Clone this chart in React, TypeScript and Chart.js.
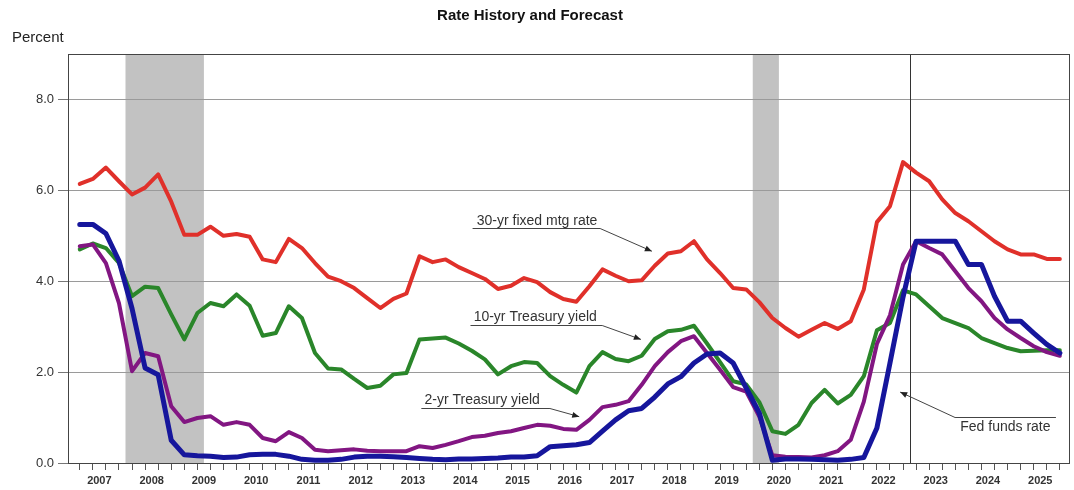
import React, { useEffect, useRef } from 'react';
import { Chart, registerables } from 'chart.js';

Chart.register(...registerables);

// ---------- data (quarterly, 2007 Q1 .. 2025 Q4) ----------
const START_YEAR = 2007;
const years = [2007, 2008, 2009, 2010, 2011, 2012, 2013, 2014, 2015, 2016, 2017, 2018, 2019, 2020, 2021, 2022, 2023, 2024, 2025];
const yTickValues = [0, 2, 4, 6, 8];

const mortgage30 = [
  6.14, 6.25, 6.50, 6.20, 5.91, 6.06, 6.35, 5.75, 5.02, 5.02,
  5.20, 5.00, 5.04, 4.98, 4.48, 4.42, 4.93, 4.73, 4.40, 4.10,
  4.00, 3.85, 3.63, 3.41, 3.61, 3.73, 4.55, 4.42, 4.48, 4.31,
  4.18, 4.05, 3.83, 3.90, 4.07, 3.98, 3.76, 3.61, 3.55, 3.89,
  4.26, 4.12, 4.00, 4.02, 4.34, 4.61, 4.66, 4.88, 4.48, 4.18,
  3.85, 3.82, 3.54, 3.19, 2.97, 2.78, 2.93, 3.08, 2.95, 3.12,
  3.82, 5.30, 5.65, 6.62, 6.39, 6.20, 5.80, 5.50, 5.32, 5.10,
  4.88, 4.70, 4.59, 4.59, 4.49, 4.49,
];

const treasury10 = [
  4.70, 4.83, 4.73, 4.40, 3.67, 3.88, 3.85, 3.27, 2.72, 3.30,
  3.52, 3.45, 3.71, 3.46, 2.80, 2.86, 3.45, 3.19, 2.42, 2.08,
  2.06, 1.85, 1.65, 1.70, 1.95, 1.98, 2.72, 2.74, 2.76, 2.63,
  2.47, 2.28, 1.95, 2.13, 2.22, 2.20, 1.91, 1.72, 1.55, 2.13,
  2.44, 2.29, 2.24, 2.36, 2.73, 2.90, 2.93, 3.02, 2.63, 2.22,
  1.80, 1.73, 1.34, 0.70, 0.64, 0.84, 1.32, 1.61, 1.31, 1.50,
  1.91, 2.92, 3.08, 3.80, 3.71, 3.45, 3.19, 3.08, 2.97, 2.75,
  2.64, 2.53, 2.46, 2.47, 2.48, 2.48,
];

const treasury2 = [
  4.77, 4.81, 4.40, 3.52, 2.02, 2.42, 2.35, 1.25, 0.90, 0.99,
  1.03, 0.84, 0.90, 0.84, 0.55, 0.48, 0.68, 0.55, 0.29, 0.26,
  0.28, 0.30, 0.27, 0.26, 0.26, 0.26, 0.37, 0.33, 0.40, 0.48,
  0.57, 0.60, 0.66, 0.70, 0.77, 0.84, 0.82, 0.75, 0.73, 0.95,
  1.23, 1.28, 1.36, 1.72, 2.13, 2.44, 2.68, 2.79, 2.42, 2.05,
  1.67, 1.57, 1.02, 0.17, 0.14, 0.13, 0.12, 0.17, 0.26, 0.51,
  1.35, 2.62, 3.25, 4.37, 4.88, 4.73, 4.59, 4.22, 3.85, 3.56,
  3.19, 2.94, 2.75, 2.57, 2.44, 2.36,
];

const fedFunds = [
  5.25, 5.25, 5.05, 4.45, 3.40, 2.09, 1.94, 0.50, 0.18, 0.16,
  0.15, 0.12, 0.13, 0.18, 0.19, 0.19, 0.15, 0.08, 0.06, 0.06,
  0.08, 0.13, 0.15, 0.15, 0.14, 0.12, 0.10, 0.08, 0.07, 0.09,
  0.09, 0.10, 0.11, 0.13, 0.13, 0.16, 0.36, 0.38, 0.40, 0.45,
  0.70, 0.95, 1.15, 1.20, 1.45, 1.74, 1.90, 2.20, 2.40, 2.42,
  2.20, 1.65, 1.10, 0.06, 0.09, 0.09, 0.08, 0.07, 0.06, 0.08,
  0.12, 0.77, 2.20, 3.65, 4.88, 4.88, 4.88, 4.88, 4.37, 4.37,
  3.67, 3.12, 3.12, 2.86, 2.61, 2.42,
];

// recession periods (start, end) in fractional years
const recessions = [
  [2008.0, 2009.5],
  [2020.0, 2020.5],
];
const forecastStart = 2023.0;

// annotation labels: text anchor, underline and arrow target, in data units
const annotations = [
  { text: '30-yr fixed mtg rate', tx: 2014.72, ty: 5.33, ux0: 2014.64, ux1: 2017.08, uy: 5.17, sx: 2017.08, sy: 5.17, ax: 2018.07, ay: 4.66 },
  { text: '10-yr Treasury yield', tx: 2014.66, ty: 3.2, ux0: 2014.6, ux1: 2017.12, uy: 3.03, sx: 2017.12, sy: 3.03, ax: 2017.86, ay: 2.72 },
  { text: '2-yr Treasury yield', tx: 2013.72, ty: 1.39, ux0: 2013.66, ux1: 2016.12, uy: 1.21, sx: 2016.12, sy: 1.21, ax: 2016.68, ay: 1.02 },
  { text: 'Fed funds rate', tx: 2023.97, ty: 0.8, ux0: 2023.87, ux1: 2025.8, uy: 1.01, sx: 2023.87, sy: 1.01, ax: 2022.82, ay: 1.56 },
];

const FONT = "'Liberation Sans', Arial, Helvetica, sans-serif";

const quarterX = (i: number) => START_YEAR + 0.125 + 0.25 * i;
const toPoints = (arr: number[]) => arr.map((v, i) => ({ x: quarterX(i), y: v }));
const isYearCenter = (v: number) => Math.abs(v - Math.floor(v) - 0.5) < 1e-6;

function drawArrow(ctx: CanvasRenderingContext2D, x0: number, y0: number, x1: number, y1: number) {
  ctx.beginPath();
  ctx.moveTo(x0, y0);
  ctx.lineTo(x1, y1);
  ctx.stroke();
  const ang = Math.atan2(y1 - y0, x1 - x0);
  const L = 7;
  const W = 3;
  const c = Math.cos(ang);
  const s = Math.sin(ang);
  ctx.beginPath();
  ctx.moveTo(x1, y1);
  ctx.lineTo(x1 - L * c + W * s, y1 - L * s - W * c);
  ctx.lineTo(x1 - L * c - W * s, y1 - L * s + W * c);
  ctx.closePath();
  ctx.fill();
}

const overlayPlugin = {
  id: 'overlay',
  beforeDraw(chart: any) {
    const { ctx, chartArea: ca, scales } = chart;
    const x = scales.x;
    ctx.save();
    ctx.fillStyle = '#ffffff';
    ctx.fillRect(0, 0, chart.width, chart.height);
    ctx.fillStyle = '#c2c2c2';
    for (const [a, b] of recessions) {
      const x0 = x.getPixelForValue(a);
      const x1 = x.getPixelForValue(b);
      ctx.fillRect(x0, ca.top, x1 - x0, ca.bottom - ca.top);
    }
    ctx.restore();
  },
  beforeDatasetsDraw(chart: any) {
    const { ctx, chartArea: ca, scales } = chart;
    const x = scales.x;
    ctx.save();
    ctx.strokeStyle = '#333';
    ctx.lineWidth = 1;
    const fx = Math.round(x.getPixelForValue(forecastStart)) + 0.5;
    ctx.beginPath();
    ctx.moveTo(fx, ca.top);
    ctx.lineTo(fx, ca.bottom);
    ctx.stroke();
    ctx.strokeStyle = '#444';
    ctx.strokeRect(Math.round(ca.left) + 0.5, Math.round(ca.top) + 0.5, Math.round(ca.right - ca.left), Math.round(ca.bottom - ca.top));
    ctx.restore();
  },
  afterDatasetsDraw(chart: any) {
    const { ctx, scales } = chart;
    const x = scales.x;
    const y = scales.y;
    ctx.save();
    ctx.fillStyle = '#333';
    ctx.strokeStyle = '#444';
    ctx.lineWidth = 1;
    ctx.font = `14px ${FONT}`;
    ctx.textBaseline = 'middle';
    ctx.textAlign = 'left';
    for (const a of annotations) {
      ctx.fillStyle = '#333';
      ctx.fillText(a.text, x.getPixelForValue(a.tx), y.getPixelForValue(a.ty));
      const uy = Math.round(y.getPixelForValue(a.uy)) + 0.5;
      ctx.beginPath();
      ctx.moveTo(x.getPixelForValue(a.ux0), uy);
      ctx.lineTo(x.getPixelForValue(a.ux1), uy);
      ctx.stroke();
      ctx.fillStyle = '#222';
      drawArrow(ctx, x.getPixelForValue(a.sx), uy, x.getPixelForValue(a.ax), y.getPixelForValue(a.ay));
    }
    // title and axis caption
    ctx.fillStyle = '#111';
    ctx.font = `bold 15px ${FONT}`;
    ctx.textAlign = 'center';
    ctx.fillText('Rate History and Forecast', 530, 16);
    ctx.font = `15px ${FONT}`;
    ctx.textAlign = 'left';
    ctx.fillStyle = '#222';
    ctx.fillText('Percent', 12, 38);
    ctx.restore();
  },
};

export default function App() {
  const canvasRef = useRef<HTMLCanvasElement | null>(null);

  useEffect(() => {
    document.body.style.margin = '0';
    const canvas = canvasRef.current;
    if (!canvas) return;
    const chart = new Chart(canvas, {
      type: 'line',
      data: {
        datasets: [
          { label: '30-yr fixed mtg rate', data: toPoints(mortgage30), borderColor: '#e0302a', borderWidth: 4, order: 1 },
          { label: 'Fed funds rate', data: toPoints(fedFunds), borderColor: '#16169c', borderWidth: 5, order: 2 },
          { label: '2-yr Treasury yield', data: toPoints(treasury2), borderColor: '#821682', borderWidth: 4, order: 3 },
          { label: '10-yr Treasury yield', data: toPoints(treasury10), borderColor: '#2a862a', borderWidth: 4, order: 4 },
        ].map((d) => ({ ...d, pointRadius: 0, pointHoverRadius: 0, tension: 0, fill: false, borderJoinStyle: 'round' as const, borderCapStyle: 'round' as const })),
      },
      options: {
        responsive: false,
        animation: false,
        devicePixelRatio: 1,
        parsing: false as any,
        normalized: true,
        layout: { padding: { top: 54, right: 5, left: 0, bottom: 0 } },
        plugins: { legend: { display: false }, tooltip: { enabled: false }, title: { display: false } },
        events: [],
        scales: {
          x: {
            type: 'linear',
            min: 2006.9,
            max: 2026.05,
            afterBuildTicks: (s: any) => {
              const t: { value: number }[] = [];
              for (let i = 0; i < mortgage30.length; i++) t.push({ value: quarterX(i) });
              for (const yr of years) t.push({ value: yr + 0.5 });
              t.sort((a, b) => a.value - b.value);
              s.ticks = t;
            },
            afterFit: (s: any) => {
              s.height = 27;
            },
            ticks: {
              autoSkip: false,
              maxRotation: 0,
              minRotation: 0,
              padding: 4,
              color: '#333',
              font: { family: FONT, size: 11, weight: 'bold' },
              callback: (v: any) => {
                const n = Number(v);
                if (!isYearCenter(n)) return '';
                const yr = years.find((yy) => yy === Math.floor(n));
                return yr !== undefined ? String(yr) : '';
              },
            },
            grid: {
              drawOnChartArea: false,
              drawTicks: true,
              tickLength: 7,
              tickColor: (ctx: any) => (ctx.tick && isYearCenter(ctx.tick.value) ? 'rgba(0,0,0,0)' : '#555'),
            },
            border: { color: '#444', width: 1 },
          },
          y: {
            type: 'linear',
            min: 0,
            max: 9,
            afterBuildTicks: (s: any) => {
              s.ticks = yTickValues.map((v) => ({ value: v }));
            },
            afterFit: (s: any) => {
              s.width = 68;
            },
            ticks: {
              padding: 4,
              color: '#333',
              font: { family: FONT, size: 13 },
              callback: (v: any) => Number(v).toFixed(1),
            },
            grid: { color: '#9a9a9a', lineWidth: 1, tickLength: 10, tickColor: '#777' },
            border: { color: '#444', width: 1 },
          },
        },
      },
      plugins: [overlayPlugin],
    } as any);
    return () => chart.destroy();
  }, []);

  return (
    <div style={{ width: 1074, height: 490 }}>
      <canvas ref={canvasRef} width={1074} height={490} style={{ display: 'block' }} />
    </div>
  );
}
